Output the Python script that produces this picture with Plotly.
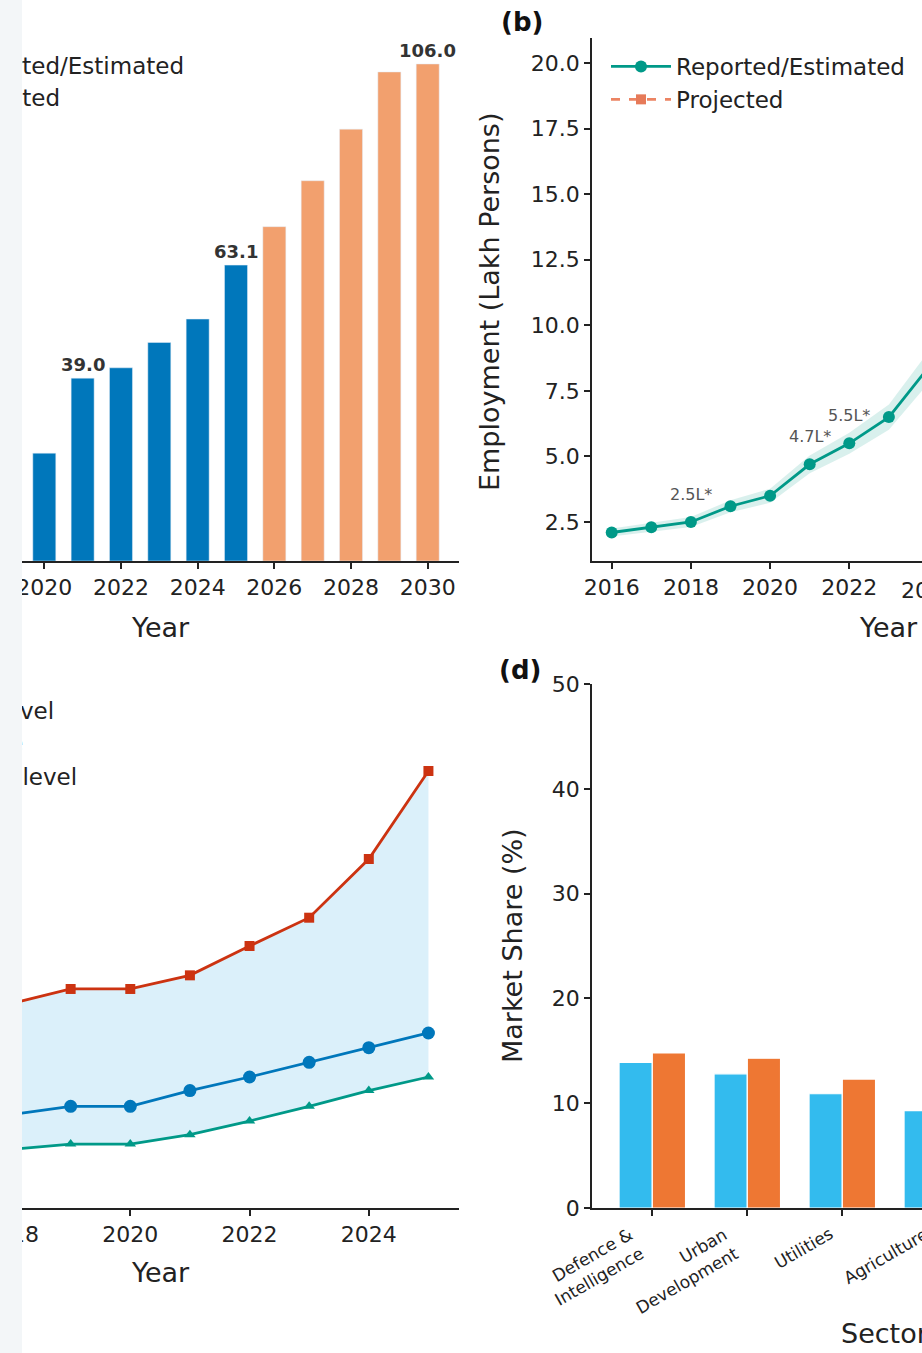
import plotly.graph_objects as go

W, H = 922, 1353
FONT = "DejaVu Sans"
INK = "#222222"

# ---- (a) market size, reported vs projected ----
years_a_rep = [2020, 2021, 2022, 2023, 2024, 2025]
size_a_rep = [23.0, 39.0, 41.2, 46.6, 51.6, 63.1]
years_a_proj = [2026, 2027, 2028, 2029, 2030]
size_a_proj = [71.3, 81.1, 92.1, 104.3, 106.0]
labelled_years_a = [2021, 2025, 2030]
legend_a = ["Reported/Estimated", "Projected"]

# ---- (b) employment ----
years_b = [2016, 2017, 2018, 2019, 2020, 2021, 2022, 2023, 2024]
emp_b = [2.1, 2.3, 2.5, 3.1, 3.5, 4.7, 5.5, 6.5, 8.4]
emp_b_low = [1.95, 2.13, 2.31, 2.87, 3.23, 4.36, 5.1, 6.02, 7.8]
emp_b_high = [2.25, 2.47, 2.69, 3.33, 3.77, 5.04, 5.9, 6.98, 9.0]
years_b_proj = [2024, 2025, 2026, 2027, 2028, 2029, 2030]
emp_b_proj = [8.4, 10.2, 12.0, 13.9, 15.8, 17.7, 19.6]
labelled_years_b = [2018, 2021, 2022]

# ---- (c) scenario levels ----
years_c = [2018, 2019, 2020, 2021, 2022, 2023, 2024, 2025]
upper_c = [19.5, 20.9, 20.9, 22.2, 25.0, 27.7, 33.3, 41.7]
mid_c = [8.9, 9.7, 9.7, 11.2, 12.5, 13.9, 15.3, 16.7]
low_c = [5.6, 6.1, 6.1, 7.0, 8.3, 9.7, 11.2, 12.5]
legend_c = ["Low level", "Middle", "Upper level"]

# ---- (d) market share by sector ----
sectors = ["Defence &<br>Intelligence", "Urban<br>Development", "Utilities", "Agriculture"]
share_now = [13.9, 12.8, 10.9, 9.3]
share_proj = [14.8, 14.3, 12.3, 10.6]

BLUE = "#0077BB"
ORANGE_LIGHT = "#F2A06E"
TEAL = "#009988"
RED = "#CC3311"
CYAN = "#33BBEE"
ORANGE = "#EE7733"


def fx(p):
    """pixel column -> paper x"""
    return p / W


def fy(p):
    """pixel row -> paper y"""
    return 1 - p / H


# subplot frames (pixel extents)
top_row = [fy(561), fy(38)]
bot_row = [fy(1208), fy(684)]
left_col = [0.0, fx(459)]
right_col = [fx(592), 1.0]

# axis scales: pixels per data unit, anchored on a known tick
PX_A, PX_B, PX_C, PX_D = 38.34, 39.6, 59.5, 95.0
B0, D0 = 611.7, 652.3          # pixel columns of the first tick in (b) and (d)
xa_rng = [2020 - 44.3 / PX_A, 2030 + (459 - 427.7) / PX_A]
ya_rng = [0, (561 - 38) / 4.689]
xb_rng = [2016 - (B0 - 592) / PX_B, 2016 + (W - B0) / PX_B]
yb_rng = [2.5 - 39 / 26.23, 20 + 25 / 26.23]
xc_rng = [2020 - 130 / PX_C, 2020 + (458 - 130) / PX_C]
yc_rng = [0, 50]
xd_rng = [-(D0 - 592) / PX_D, (W - D0) / PX_D]
yd_rng = [0, 50]

fig = go.Figure()

# (a) bars
fig.add_trace(go.Bar(x=years_a_rep, y=size_a_rep, marker_color=BLUE, width=0.6, offset=-0.3,
                     xaxis="x", yaxis="y", showlegend=False))
fig.add_trace(go.Bar(x=years_a_proj, y=size_a_proj, marker_color=ORANGE_LIGHT, width=0.6, offset=-0.3,
                     xaxis="x", yaxis="y", showlegend=False))
# (a) legend labels, right-aligned at their end so the start runs past the frame
fig.add_trace(go.Scatter(
    x=[2020 + (184 - 44.3) / PX_A, 2020 + (60 - 44.3) / PX_A],
    y=[(561 - 68) / 4.689, (561 - 100) / 4.689],
    mode="text", text=legend_a, textposition="middle left",
    textfont=dict(family=FONT, size=23, color=INK), cliponaxis=False,
    xaxis="x", yaxis="y", showlegend=False, hoverinfo="skip"))

# (b) band, reported line, projected line
fig.add_trace(go.Scatter(x=years_b, y=emp_b_low, mode="lines", line=dict(width=0),
                         xaxis="x2", yaxis="y2", showlegend=False, hoverinfo="skip"))
fig.add_trace(go.Scatter(x=years_b, y=emp_b_high, mode="lines", line=dict(width=0), fill="tonexty",
                         fillcolor="rgba(0,153,136,0.15)", xaxis="x2", yaxis="y2",
                         showlegend=False, hoverinfo="skip"))
fig.add_trace(go.Scatter(x=years_b, y=emp_b, mode="lines+markers", name="Reported/Estimated",
                         line=dict(color=TEAL, width=2.8), marker=dict(symbol="circle", size=12, color=TEAL),
                         xaxis="x2", yaxis="y2", legend="legend"))
fig.add_trace(go.Scatter(x=years_b_proj, y=emp_b_proj, mode="lines+markers", name="Projected",
                         line=dict(color="#E8663D", width=2.8, dash="dash"), opacity=0.8,
                         marker=dict(symbol="square", size=10, color="#E05A30"),
                         xaxis="x2", yaxis="y2", legend="legend"))

# (c) shaded range between upper and low levels
fig.add_trace(go.Scatter(x=years_c, y=low_c, mode="lines", line=dict(width=0),
                         xaxis="x3", yaxis="y3", showlegend=False, hoverinfo="skip"))
fig.add_trace(go.Scatter(x=years_c, y=upper_c, mode="lines", line=dict(width=0), fill="tonexty",
                         fillcolor="rgba(136,204,238,0.3)", xaxis="x3", yaxis="y3",
                         showlegend=False, hoverinfo="skip"))
fig.add_trace(go.Scatter(x=years_c, y=upper_c, mode="lines+markers", line=dict(color=RED, width=2.8),
                         marker=dict(symbol="square", size=10, color=RED),
                         xaxis="x3", yaxis="y3", showlegend=False))
fig.add_trace(go.Scatter(x=years_c, y=mid_c, mode="lines+markers", line=dict(color=BLUE, width=2.8),
                         marker=dict(symbol="circle", size=13, color=BLUE),
                         xaxis="x3", yaxis="y3", showlegend=False))
fig.add_trace(go.Scatter(x=years_c, y=low_c, mode="lines+markers", line=dict(color=TEAL, width=2.8),
                         marker=dict(symbol="triangle-up", size=10, color=TEAL),
                         xaxis="x3", yaxis="y3", showlegend=False))
# (c) legend labels
fig.add_trace(go.Scatter(
    x=[2020 + (54 - 130) / PX_C, 2020 + (23 - 130) / PX_C, 2020 + (77 - 130) / PX_C],
    y=[(1208 - 713) / 10.48, (1208 - 745) / 10.48, (1208 - 779) / 10.48],
    mode="text", text=legend_c, textposition="middle left",
    textfont=dict(family=FONT, size=23, color=INK), cliponaxis=False,
    xaxis="x3", yaxis="y3", showlegend=False, hoverinfo="skip"))

# (d) grouped bars
idx = list(range(len(sectors)))
fig.add_trace(go.Bar(x=idx, y=share_now, marker=dict(color=CYAN, line=dict(color="white", width=1.2)),
                     width=0.35, offset=-0.35, xaxis="x4", yaxis="y4", showlegend=False))
fig.add_trace(go.Bar(x=idx, y=share_proj, marker=dict(color=ORANGE, line=dict(color="white", width=1.2)),
                     width=0.35, offset=0.0, xaxis="x4", yaxis="y4", showlegend=False))

tickfont = dict(family=FONT, size=22, color=INK)


def axis(domain, rng, anchor, **kw):
    d = dict(domain=domain, range=rng, anchor=anchor, showline=True, linecolor=INK, linewidth=1.6,
             ticks="outside", ticklen=6, tickwidth=1.5, tickcolor=INK, tickfont=tickfont,
             showgrid=False, zeroline=False, fixedrange=True, automargin=False,
             ticklabeloverflow="allow")
    d.update(kw)
    return d


def hidden_axis(domain, rng, anchor):
    return dict(domain=domain, range=rng, anchor=anchor, visible=False, fixedrange=True, automargin=False)


annotations = []

# bar value labels in (a)
all_years_a = years_a_rep + years_a_proj
all_size_a = size_a_rep + size_a_proj
for yr, v in zip(all_years_a, all_size_a):
    if yr in labelled_years_a:
        annotations.append(dict(x=yr, y=v, xref="x", yref="y", text=f"<b>{v:.1f}</b>", showarrow=False,
                                yanchor="bottom", yshift=1, font=dict(family=FONT, size=18, color="#333333")))

# point labels in (b)
for yr, v in zip(years_b, emp_b):
    if yr in labelled_years_b:
        annotations.append(dict(x=yr, y=v, xref="x2", yref="y2", text=f"{v:.1f}L*", showarrow=False,
                                yanchor="middle", yshift=28, font=dict(family=FONT, size=16, color="#555555")))

# (b) tick label that sits past the right frame edge
annotations.append(dict(x=fx(B0 + (2024 - 2016) * PX_B), y=fy(590), xref="paper", yref="paper", text="2024",
                        showarrow=False, xanchor="center", yanchor="middle", font=tickfont))

# sector labels in (d), placed at their category position
for i, s in enumerate(sectors):
    annotations.append(dict(x=fx(D0 + i * PX_D), y=fy(1208), xref="paper", yref="paper", text=s,
                            showarrow=False, textangle=-30, xanchor="right", yanchor="top", align="right",
                            xshift=-3, yshift=-13, font=dict(family=FONT, size=17, color=INK)))

title_font = dict(family=FONT, size=27, color=INK)
for (px, py, txt, ang) in [(160, 627, "Year", 0), (888, 627, "Year", 0), (490, 302, "Employment (Lakh Persons)", -90),
                           (160, 1272, "Year", 0), (512, 946, "Market Share (%)", -90), (885, 1333, "Sector", 0)]:
    annotations.append(dict(x=fx(px), y=fy(py), xref="paper", yref="paper", text=txt, showarrow=False,
                            textangle=ang, xanchor="center", yanchor="middle", font=title_font))

for (px, py, txt) in [(522, 22, "(b)"), (520, 670, "(d)")]:
    annotations.append(dict(x=fx(px), y=fy(py), xref="paper", yref="paper", text=f"<b>{txt}</b>",
                            showarrow=False, xanchor="center", yanchor="middle",
                            font=dict(family=FONT, size=26, color="#111111")))

fig.update_layout(
    width=W, height=H, margin=dict(l=0, r=0, t=0, b=0, autoexpand=False),
    paper_bgcolor="white", plot_bgcolor="white", barmode="overlay",
    font=dict(family=FONT, color=INK),
    xaxis=axis(left_col, xa_rng, "y", tick0=2020, dtick=2),
    yaxis=hidden_axis(top_row, ya_rng, "x"),
    xaxis2=axis(right_col, xb_rng, "y2", tick0=2016, dtick=2),
    yaxis2=axis(top_row, yb_rng, "x2", tickvals=[2.5, 5, 7.5, 10, 12.5, 15, 17.5, 20],
                ticktext=["2.5", "5.0", "7.5", "10.0", "12.5", "15.0", "17.5", "20.0"]),
    xaxis3=axis(left_col, xc_rng, "y3", tick0=2018, dtick=2),
    yaxis3=hidden_axis(bot_row, yc_rng, "x3"),
    xaxis4=axis(right_col, xd_rng, "y4", tickvals=[0, 1, 2], showticklabels=False),
    yaxis4=axis(bot_row, yd_rng, "x4", tickvals=[0, 10, 20, 30, 40, 50]),
    legend=dict(x=fx(606), y=fy(45), xanchor="left", yanchor="top", bgcolor="rgba(0,0,0,0)",
                font=dict(family=FONT, size=23, color=INK), tracegroupgap=0, traceorder="normal",
                itemwidth=60),
    annotations=annotations,
    shapes=[dict(type="rect", xref="paper", yref="paper", x0=0, x1=fx(22), y0=0, y1=1,
                 fillcolor="#f3f6f8", line=dict(width=0), layer="above")],
)

fig.write_html("out.html")
